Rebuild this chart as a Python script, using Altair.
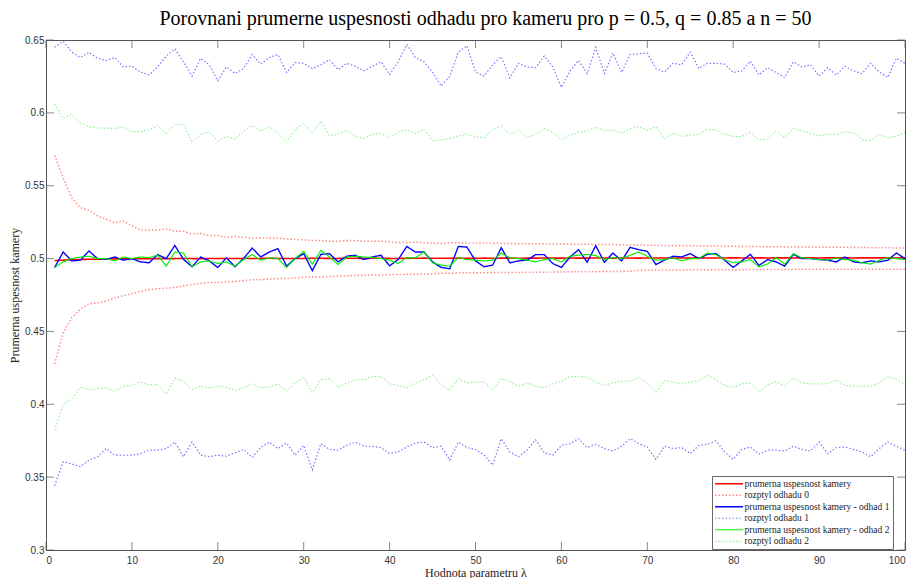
import altair as alt
import pandas as pd

lam = list(range(1, 101))

mean0 = [0.4986,0.4989,0.4992,0.4994,0.4995,0.4996,0.4997,0.4998,0.4998,0.4999,
         0.4999,0.4999,0.5000,0.4999,0.5000,0.5001,0.5000,0.4999,0.5000,0.5001,
         0.5001,0.5000,0.5000,0.5001,0.5001,0.5002,0.5001,0.5000,0.5001,0.5001,
         0.5002,0.5002,0.5001,0.5001,0.5002,0.5002,0.5001,0.5002,0.5002,0.5001,
         0.5001,0.5002,0.5002,0.5003,0.5002,0.5002,0.5002,0.5003,0.5002,0.5002,
         0.5003,0.5002,0.5003,0.5003,0.5002,0.5003,0.5003,0.5004,0.5003,0.5003,
         0.5004,0.5003,0.5003,0.5004,0.5004,0.5003,0.5004,0.5004,0.5003,0.5004,
         0.5004,0.5004,0.5003,0.5004,0.5004,0.5005,0.5004,0.5004,0.5004,0.5005,
         0.5004,0.5004,0.5005,0.5004,0.5005,0.5005,0.5004,0.5005,0.5005,0.5004,
         0.5005,0.5005,0.5005,0.5004,0.5005,0.5005,0.5005,0.5005,0.5004,0.5005]

r0_hi = [0.5709,0.5552,0.5417,0.5349,0.5331,0.5293,0.5270,0.5245,0.5259,0.5225,
         0.5196,0.5196,0.5196,0.5203,0.5187,0.5187,0.5169,0.5173,0.5158,0.5158,
         0.5146,0.5151,0.5146,0.5140,0.5142,0.5142,0.5140,0.5135,0.5131,0.5128,
         0.5124,0.5124,0.5119,0.5119,0.5124,0.5124,0.5119,0.5119,0.5119,0.5115,
         0.5110,0.5110,0.5113,0.5108,0.5106,0.5104,0.5108,0.5108,0.5106,0.5106,
         0.5106,0.5106,0.5104,0.5104,0.5102,0.5102,0.5101,0.5101,0.5100,0.5100,
         0.5099,0.5098,0.5098,0.5097,0.5096,0.5096,0.5095,0.5094,0.5093,0.5092,
         0.5091,0.5090,0.5089,0.5088,0.5088,0.5087,0.5086,0.5086,0.5085,0.5084,
         0.5083,0.5083,0.5082,0.5081,0.5081,0.5080,0.5080,0.5079,0.5079,0.5078,
         0.5078,0.5077,0.5077,0.5076,0.5076,0.5075,0.5074,0.5074,0.5073,0.5073]

r0_lo = [0.4277,0.4493,0.4595,0.4651,0.4689,0.4696,0.4707,0.4730,0.4745,0.4759,
         0.4775,0.4786,0.4793,0.4797,0.4802,0.4813,0.4820,0.4831,0.4836,0.4836,
         0.4840,0.4842,0.4849,0.4854,0.4854,0.4860,0.4863,0.4863,0.4867,0.4872,
         0.4876,0.4872,0.4876,0.4881,0.4881,0.4885,0.4885,0.4887,0.4887,0.4890,
         0.4890,0.4892,0.4892,0.4894,0.4894,0.4899,0.4899,0.4903,0.4903,0.4903,
         0.4903,0.4904,0.4904,0.4905,0.4905,0.4906,0.4906,0.4907,0.4907,0.4908,
         0.4909,0.4909,0.4910,0.4910,0.4911,0.4911,0.4912,0.4913,0.4920,0.4921,
         0.4921,0.4922,0.4922,0.4922,0.4923,0.4923,0.4923,0.4924,0.4924,0.4924,
         0.4924,0.4925,0.4925,0.4925,0.4925,0.4925,0.4926,0.4926,0.4926,0.4926,
         0.4926,0.4926,0.4927,0.4927,0.4927,0.4927,0.4927,0.4927,0.4927,0.4927]

mean1 = [0.4939,0.5045,0.4984,0.4989,0.5052,0.5000,0.4995,0.5011,0.4989,0.5000,
         0.4977,0.4971,0.5027,0.5000,0.5090,0.4995,0.4944,0.5011,0.4984,0.4939,
         0.5005,0.4944,0.5000,0.5072,0.5011,0.5045,0.5068,0.4948,0.5000,0.5034,
         0.4917,0.5029,0.5034,0.4977,0.5016,0.5023,0.4993,0.5011,0.5023,0.4950,
         0.4993,0.5083,0.5045,0.5045,0.4977,0.4939,0.4930,0.5083,0.5079,0.4984,
         0.4944,0.4955,0.5074,0.4971,0.4984,0.4989,0.5027,0.5027,0.4966,0.4939,
         0.5011,0.5061,0.4975,0.5088,0.4975,0.5038,0.4984,0.5077,0.5061,0.5050,
         0.4959,0.4989,0.5016,0.5011,0.5034,0.5000,0.5029,0.5034,0.4989,0.4939,
         0.4984,0.5029,0.4953,0.4993,0.4977,0.4948,0.5029,0.5000,0.5000,0.4993,
         0.4989,0.4977,0.5011,0.4977,0.4971,0.4984,0.4977,0.4989,0.5038,0.5000]

r1_hi = [0.6450,0.6490,0.6417,0.6380,0.6415,0.6375,0.6360,0.6380,0.6315,0.6320,
         0.6280,0.6260,0.6315,0.6390,0.6440,0.6350,0.6253,0.6374,0.6330,0.6220,
         0.6315,0.6270,0.6304,0.6400,0.6334,0.6380,0.6400,0.6277,0.6345,0.6340,
         0.6304,0.6330,0.6365,0.6297,0.6340,0.6320,0.6288,0.6320,0.6350,0.6263,
         0.6350,0.6470,0.6380,0.6350,0.6280,0.6184,0.6250,0.6417,0.6460,0.6280,
         0.6253,0.6330,0.6385,0.6240,0.6340,0.6315,0.6310,0.6390,0.6315,0.6175,
         0.6288,0.6360,0.6270,0.6450,0.6270,0.6410,0.6277,0.6400,0.6405,0.6410,
         0.6304,0.6280,0.6340,0.6330,0.6417,0.6304,0.6340,0.6340,0.6334,0.6277,
         0.6288,0.6355,0.6260,0.6310,0.6277,0.6243,0.6350,0.6315,0.6330,0.6253,
         0.6310,0.6260,0.6320,0.6288,0.6270,0.6340,0.6280,0.6243,0.6375,0.6340]

r1_lo = [0.3441,0.3606,0.3590,0.3572,0.3617,0.3640,0.3696,0.3651,0.3651,0.3651,
         0.3662,0.3685,0.3685,0.3696,0.3741,0.3640,0.3741,0.3651,0.3640,0.3651,
         0.3644,0.3667,0.3690,0.3635,0.3703,0.3741,0.3696,0.3734,0.3651,0.3718,
         0.3550,0.3730,0.3690,0.3685,0.3718,0.3741,0.3712,0.3712,0.3703,0.3662,
         0.3673,0.3707,0.3734,0.3741,0.3703,0.3712,0.3617,0.3741,0.3703,0.3690,
         0.3651,0.3583,0.3764,0.3673,0.3640,0.3685,0.3757,0.3667,0.3651,0.3718,
         0.3730,0.3764,0.3703,0.3725,0.3696,0.3680,0.3712,0.3764,0.3730,0.3707,
         0.3622,0.3712,0.3696,0.3703,0.3662,0.3718,0.3725,0.3748,0.3673,0.3622,
         0.3690,0.3707,0.3658,0.3685,0.3685,0.3680,0.3712,0.3690,0.3680,0.3741,
         0.3662,0.3703,0.3707,0.3690,0.3673,0.3640,0.3696,0.3741,0.3712,0.3685]

mean2 = [0.4939,0.4977,0.5000,0.5011,0.5016,0.5000,0.5000,0.4984,0.5011,0.5000,
         0.5011,0.5007,0.5023,0.4948,0.5045,0.5038,0.4944,0.4977,0.4984,0.4966,
         0.4977,0.4948,0.4993,0.5027,0.4989,0.5005,0.5000,0.4939,0.5000,0.5050,
         0.4962,0.5056,0.5011,0.4959,0.5011,0.5016,0.5011,0.5007,0.5000,0.4989,
         0.4966,0.5007,0.5005,0.5045,0.4971,0.4955,0.4948,0.5007,0.4993,0.4989,
         0.4984,0.4989,0.5038,0.5005,0.5000,0.4989,0.4977,0.4993,0.5000,0.4977,
         0.5016,0.5023,0.5029,0.5020,0.4993,0.5007,0.5000,0.5023,0.5045,0.5016,
         0.4989,0.4993,0.5005,0.4984,0.5000,0.5000,0.5038,0.5027,0.4993,0.4971,
         0.4977,0.4993,0.4944,0.4962,0.5007,0.4962,0.5034,0.5005,0.5000,0.4993,
         0.4989,0.5005,0.4993,0.4989,0.4971,0.4962,0.4989,0.5005,0.5000,0.4993]

r2_hi = [0.6061,0.5960,0.5990,0.5932,0.5905,0.5896,0.5896,0.5892,0.5903,0.5871,
         0.5873,0.5883,0.5914,0.5853,0.5920,0.5923,0.5797,0.5853,0.5869,0.5808,
         0.5838,0.5820,0.5876,0.5914,0.5876,0.5905,0.5865,0.5797,0.5887,0.5928,
         0.5860,0.5944,0.5842,0.5853,0.5880,0.5838,0.5824,0.5853,0.5858,0.5830,
         0.5869,0.5883,0.5860,0.5887,0.5808,0.5815,0.5824,0.5842,0.5853,0.5835,
         0.5830,0.5887,0.5909,0.5853,0.5880,0.5830,0.5853,0.5892,0.5865,0.5815,
         0.5847,0.5865,0.5876,0.5903,0.5876,0.5883,0.5860,0.5892,0.5905,0.5883,
         0.5905,0.5820,0.5860,0.5838,0.5847,0.5853,0.5887,0.5883,0.5853,0.5838,
         0.5838,0.5865,0.5815,0.5820,0.5876,0.5830,0.5892,0.5876,0.5860,0.5842,
         0.5853,0.5853,0.5869,0.5865,0.5815,0.5808,0.5853,0.5830,0.5838,0.5865]

r2_lo = [0.3820,0.4000,0.4034,0.4117,0.4100,0.4106,0.4113,0.4090,0.4124,0.4130,
         0.4153,0.4135,0.4135,0.4068,0.4180,0.4158,0.4100,0.4124,0.4113,0.4124,
         0.4117,0.4095,0.4113,0.4140,0.4113,0.4120,0.4140,0.4090,0.4146,0.4185,
         0.4079,0.4169,0.4176,0.4117,0.4146,0.4169,0.4169,0.4191,0.4191,0.4140,
         0.4130,0.4113,0.4146,0.4169,0.4198,0.4135,0.4095,0.4180,0.4146,0.4153,
         0.4153,0.4095,0.4176,0.4158,0.4124,0.4146,0.4124,0.4113,0.4140,0.4158,
         0.4191,0.4191,0.4185,0.4153,0.4130,0.4146,0.4158,0.4158,0.4185,0.4146,
         0.4079,0.4162,0.4153,0.4140,0.4153,0.4162,0.4198,0.4169,0.4130,0.4117,
         0.4140,0.4146,0.4086,0.4135,0.4153,0.4124,0.4180,0.4146,0.4140,0.4140,
         0.4140,0.4169,0.4130,0.4124,0.4124,0.4124,0.4146,0.4191,0.4169,0.4135]

names = ["prumerna uspesnost kamery", "rozptyl odhadu 0",
         "prumerna uspesnost kamery - odhad 1", "rozptyl odhadu 1",
         "prumerna uspesnost kamery - odhad 2", "rozptyl odhadu 2"]
colors = ["#ff0000", "#ff8c8c", "#0000ff", "#7a7aff", "#00ee00", "#77f077"]
dashes = [[1, 0], [1.5, 2], [1, 0], [1.5, 2], [1, 0], [1.5, 2]]
widths = [1.6, 1.0, 1.6, 1.0, 1.6, 1.0]

xticks = [0, 10, 20, 30, 40, 50, 60, 70, 80, 90, 100]
yticks = [0.3, 0.35, 0.4, 0.45, 0.5, 0.55, 0.6, 0.65]

series = [
    (names[0], "m0", mean0),
    (names[1], "r0h", r0_hi), (names[1], "r0l", r0_lo),
    (names[2], "m1", mean1),
    (names[3], "r1h", r1_hi), (names[3], "r1l", r1_lo),
    (names[4], "m2", mean2),
    (names[5], "r2h", r2_hi), (names[5], "r2l", r2_lo),
]
rows = []
for name, lid, vals in series:
    for xv, yv in zip(lam, vals):
        rows.append({"series": name, "line": lid, "x": xv, "y": yv})
df = pd.DataFrame(rows)

axis_color = "#555555"
label_color = "#333333"
xtitle = "Hodnota parametru λ"
ytitle = "Prumerna uspesnost kamery"

xscale = alt.Scale(domain=[0, 100], nice=False, zero=False)
yscale = alt.Scale(domain=[0.3, 0.65], nice=False, zero=False)

lines = alt.Chart(df).mark_line(strokeCap="butt").encode(
    x=alt.X("x:Q", scale=xscale, title=xtitle,
            axis=alt.Axis(values=xticks, grid=False, ticks=False, labelPadding=5,
                          titlePadding=2)),
    y=alt.Y("y:Q", scale=yscale, title=ytitle,
            axis=alt.Axis(values=yticks, format=".2~f", grid=False, ticks=False,
                          labelPadding=2, titlePadding=3)),
    color=alt.Color("series:N", scale=alt.Scale(domain=names, range=colors),
                    legend=alt.Legend(title=None)),
    strokeDash=alt.StrokeDash("series:N", scale=alt.Scale(domain=names, range=dashes),
                              legend=alt.Legend(title=None)),
    strokeWidth=alt.StrokeWidth("series:N", scale=alt.Scale(domain=names, range=widths),
                                legend=alt.Legend(title=None)),
    detail="line:N",
    order="x:Q",
)

xt = pd.DataFrame({"x": xticks})
yt = pd.DataFrame({"y": yticks})

tick_bottom = alt.Chart(xt).mark_tick(orient="vertical", size=8, thickness=1,
                                      color=axis_color, yOffset=-4).encode(
    x=alt.X("x:Q", scale=xscale, title=xtitle), y=alt.datum(0.3))
tick_top = alt.Chart(xt).mark_tick(orient="vertical", size=8, thickness=1,
                                   color=axis_color, yOffset=4).encode(
    x=alt.X("x:Q", scale=xscale, title=xtitle), y=alt.datum(0.65))
tick_left = alt.Chart(yt).mark_tick(orient="horizontal", size=8, thickness=1,
                                    color=axis_color, xOffset=4).encode(
    y=alt.Y("y:Q", scale=yscale, title=ytitle), x=alt.datum(0))
tick_right = alt.Chart(yt).mark_tick(orient="horizontal", size=8, thickness=1,
                                     color=axis_color, xOffset=-4).encode(
    y=alt.Y("y:Q", scale=yscale, title=ytitle), x=alt.datum(100))

chart = alt.layer(tick_bottom, tick_top, tick_left, tick_right, lines).properties(
    width=901, height=570,
    autosize=alt.AutoSizeParams(type="fit", contains="padding"),
    padding={"left": 0, "top": 1, "right": 0, "bottom": 0},
    title=alt.TitleParams(
        "Porovnani prumerne uspesnosti odhadu pro kameru pro p = 0.5, q = 0.85 a n = 50",
        font="Liberation Serif", fontSize=20, fontWeight="normal", color="#000000",
        anchor="middle", frame="group", offset=6, dx=10),
    background="white",
).configure_view(
    stroke=axis_color, strokeWidth=1
).configure_axis(
    domainColor=axis_color, domainWidth=1,
    labelFont="Liberation Sans", labelFontSize=10, labelColor=label_color,
    titleFont="Liberation Serif", titleFontSize=12, titleFontWeight="normal",
    titleColor="#222222",
).configure_legend(
    orient="none", legendX=666, legendY=436,
    fillColor="white", strokeColor="#666666", padding=3,
    labelFont="Liberation Serif", labelFontSize=9.5, labelColor="#222222",
    symbolType="M-4,0H4", symbolSize=49, symbolOffset=9.35, labelOffset=10.7,
    rowPadding=0.5, labelLimit=300,
)

chart.save("out.html", embed_options={"renderer": "svg", "actions": False})
